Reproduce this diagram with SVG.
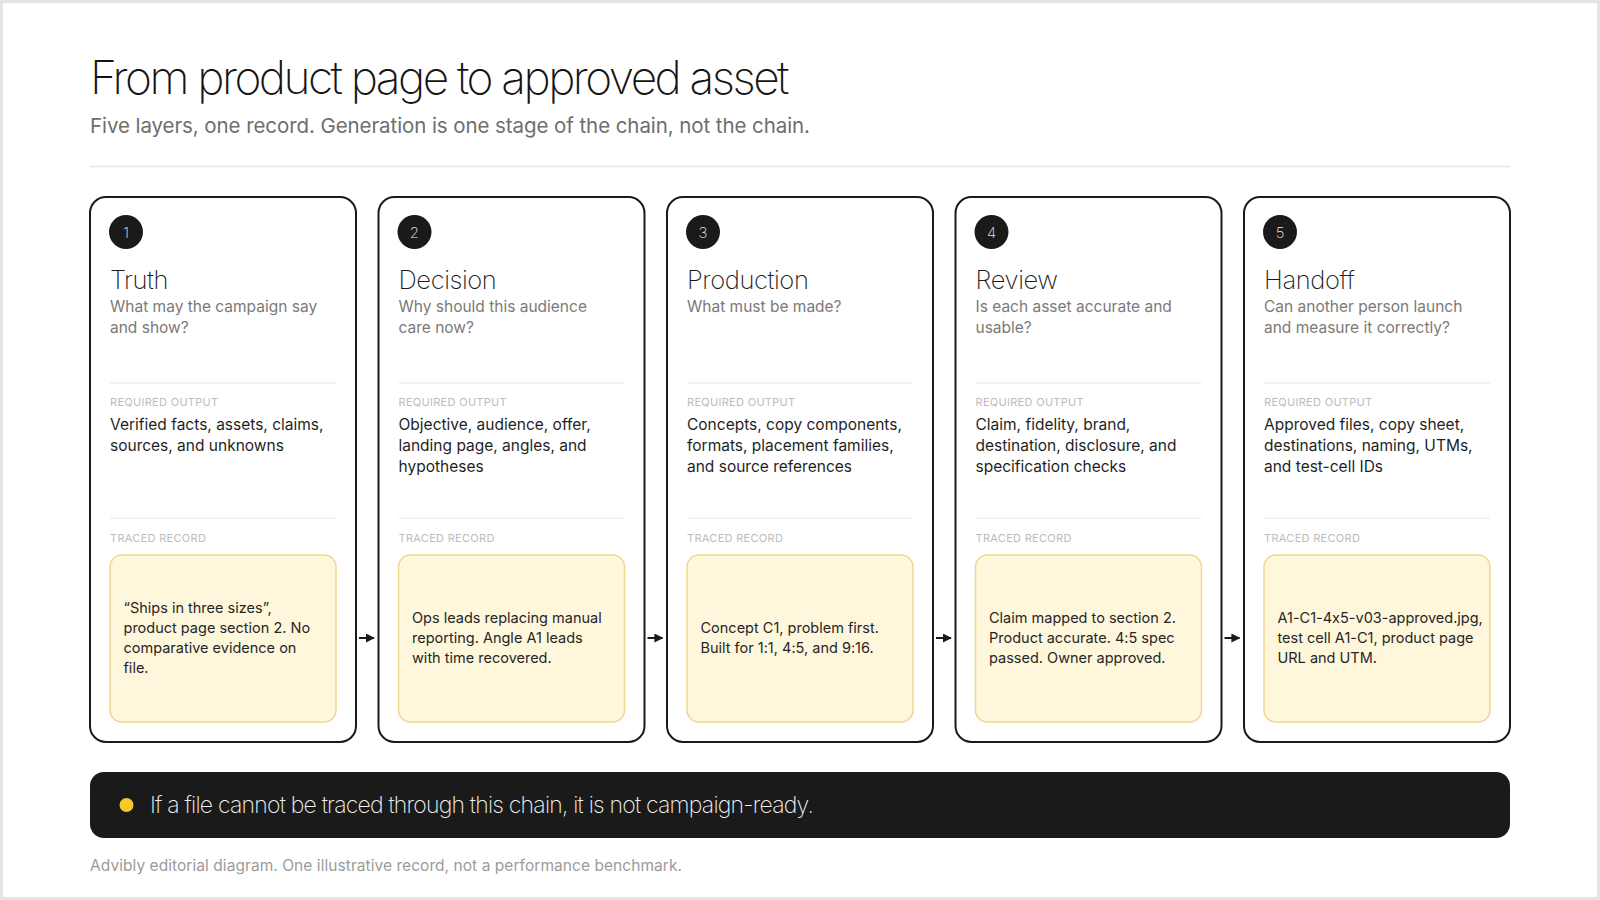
<svg xmlns="http://www.w3.org/2000/svg" width="1600" height="900" viewBox="0 0 1600 900">
<defs>
<style>
text{font-feature-settings:"calt" 0}
.bg{fill:#ffffff;stroke:#e4e4e4;stroke-width:3}
.title{font-family:Inter,"Noto Sans",sans-serif;font-weight:200;font-size:46px;fill:#141414;letter-spacing:-1.5px}
.sub{font-family:Inter,"Noto Sans",sans-serif;font-weight:400;font-size:20.5px;fill:#6e6e6e}
.rule{stroke:#e6e6e6;stroke-width:1.5}
.card{fill:#ffffff;stroke:#1a1a1a;stroke-width:2}
.badge{fill:#1a1a1a}
.num{font-family:Inter,"Noto Sans",sans-serif;font-weight:200;font-size:15px;fill:#e8e8e8;text-anchor:middle}
.ctitle{font-family:Inter,"Noto Sans",sans-serif;font-weight:250;font-size:25.5px;fill:#1a1a1a;letter-spacing:-0.4px}
.q{font-family:Inter,"Noto Sans",sans-serif;font-weight:400;font-size:15.5px;fill:#7a7a7a}
.div{stroke:#e8e8e8;stroke-width:1.2}
.lab{font-family:Inter,"Noto Sans",sans-serif;font-weight:400;font-size:11px;fill:#bcbcbc;letter-spacing:0.3px}
.out{font-family:Inter,"Noto Sans",sans-serif;font-weight:400;font-size:15.5px;fill:#1f1f1f}
.rec{fill:#fef7dc;stroke:#eed78e;stroke-width:1.5}
.rt{font-family:Inter,"Noto Sans",sans-serif;font-weight:400;font-size:14.5px;fill:#262626}
.conn{stroke:#1a1a1a;stroke-width:2;fill:none}
.bar{fill:#1a1a1a}
.bartext{font-family:Inter,"Noto Sans",sans-serif;font-weight:200;font-size:23px;fill:#f2f2f2;letter-spacing:-0.8px}
.foot{font-family:Inter,"Noto Sans",sans-serif;font-weight:400;font-size:15.5px;fill:#9b9b9b}
</style>
<marker id="ah" viewBox="0 0 10 10" refX="9" refY="5" markerWidth="4.5" markerHeight="4.5" orient="auto" markerUnits="strokeWidth">
<path d="M0,0 L10,5 L0,10 z" fill="#1a1a1a"/>
</marker>
</defs>
<rect class="bg" x="1.5" y="1.5" width="1597" height="897"/>
<g id="header">
<text class="title" x="90" y="94" textLength="698">From product page to approved asset</text>
<text class="sub" x="90" y="133" textLength="720">Five layers, one record. Generation is one stage of the chain, not the chain.</text>
<line class="rule" x1="90" y1="166.5" x2="1510" y2="166.5"/>
</g>
<g id="card1">
<rect class="card" x="90" y="197" width="266" height="545" rx="16"/>
<circle class="badge" cx="126" cy="232" r="17"/>
<text class="num" x="126" y="237.5">1</text>
<text class="ctitle" x="110" y="289">Truth</text>
<text class="q" x="110" y="312">What may the campaign say</text>
<text class="q" x="110" y="333">and show?</text>
<line class="div" x1="110" y1="383" x2="336" y2="383"/>
<text class="lab" x="110" y="406">REQUIRED OUTPUT</text>
<text class="out" x="110" y="430">Verified facts, assets, claims,</text>
<text class="out" x="110" y="451">sources, and unknowns</text>
<line class="div" x1="110" y1="518" x2="336" y2="518"/>
<text class="lab" x="110" y="542">TRACED RECORD</text>
<rect class="rec" x="110" y="555" width="226" height="167" rx="12"/>
<text class="rt" x="123.5" y="612.5">“Ships in three sizes”,</text>
<text class="rt" x="123.5" y="632.5">product page section 2. No</text>
<text class="rt" x="123.5" y="652.5">comparative evidence on</text>
<text class="rt" x="123.5" y="672.5">file.</text>
</g>
<g id="card2">
<rect class="card" x="378.5" y="197" width="266" height="545" rx="16"/>
<circle class="badge" cx="414.5" cy="232" r="17"/>
<text class="num" x="414.5" y="237.5">2</text>
<text class="ctitle" x="398.5" y="289">Decision</text>
<text class="q" x="398.5" y="312">Why should this audience</text>
<text class="q" x="398.5" y="333">care now?</text>
<line class="div" x1="398.5" y1="383" x2="624.5" y2="383"/>
<text class="lab" x="398.5" y="406">REQUIRED OUTPUT</text>
<text class="out" x="398.5" y="430">Objective, audience, offer,</text>
<text class="out" x="398.5" y="451">landing page, angles, and</text>
<text class="out" x="398.5" y="472">hypotheses</text>
<line class="div" x1="398.5" y1="518" x2="624.5" y2="518"/>
<text class="lab" x="398.5" y="542">TRACED RECORD</text>
<rect class="rec" x="398.5" y="555" width="226" height="167" rx="12"/>
<text class="rt" x="412" y="622.5">Ops leads replacing manual</text>
<text class="rt" x="412" y="642.5">reporting. Angle A1 leads</text>
<text class="rt" x="412" y="662.5">with time recovered.</text>
</g>
<g id="card3">
<rect class="card" x="667" y="197" width="266" height="545" rx="16"/>
<circle class="badge" cx="703" cy="232" r="17"/>
<text class="num" x="703" y="237.5">3</text>
<text class="ctitle" x="687" y="289">Production</text>
<text class="q" x="687" y="312">What must be made?</text>
<line class="div" x1="687" y1="383" x2="913" y2="383"/>
<text class="lab" x="687" y="406">REQUIRED OUTPUT</text>
<text class="out" x="687" y="430">Concepts, copy components,</text>
<text class="out" x="687" y="451">formats, placement families,</text>
<text class="out" x="687" y="472">and source references</text>
<line class="div" x1="687" y1="518" x2="913" y2="518"/>
<text class="lab" x="687" y="542">TRACED RECORD</text>
<rect class="rec" x="687" y="555" width="226" height="167" rx="12"/>
<text class="rt" x="700.5" y="632.5">Concept C1, problem first.</text>
<text class="rt" x="700.5" y="652.5">Built for 1:1, 4:5, and 9:16.</text>
</g>
<g id="card4">
<rect class="card" x="955.5" y="197" width="266" height="545" rx="16"/>
<circle class="badge" cx="991.5" cy="232" r="17"/>
<text class="num" x="991.5" y="237.5">4</text>
<text class="ctitle" x="975.5" y="289">Review</text>
<text class="q" x="975.5" y="312">Is each asset accurate and</text>
<text class="q" x="975.5" y="333">usable?</text>
<line class="div" x1="975.5" y1="383" x2="1201.5" y2="383"/>
<text class="lab" x="975.5" y="406">REQUIRED OUTPUT</text>
<text class="out" x="975.5" y="430">Claim, fidelity, brand,</text>
<text class="out" x="975.5" y="451">destination, disclosure, and</text>
<text class="out" x="975.5" y="472">specification checks</text>
<line class="div" x1="975.5" y1="518" x2="1201.5" y2="518"/>
<text class="lab" x="975.5" y="542">TRACED RECORD</text>
<rect class="rec" x="975.5" y="555" width="226" height="167" rx="12"/>
<text class="rt" x="989" y="622.5">Claim mapped to section 2.</text>
<text class="rt" x="989" y="642.5">Product accurate. 4:5 spec</text>
<text class="rt" x="989" y="662.5">passed. Owner approved.</text>
</g>
<g id="card5">
<rect class="card" x="1244" y="197" width="266" height="545" rx="16"/>
<circle class="badge" cx="1280" cy="232" r="17"/>
<text class="num" x="1280" y="237.5">5</text>
<text class="ctitle" x="1264" y="289">Handoff</text>
<text class="q" x="1264" y="312">Can another person launch</text>
<text class="q" x="1264" y="333">and measure it correctly?</text>
<line class="div" x1="1264" y1="383" x2="1490" y2="383"/>
<text class="lab" x="1264" y="406">REQUIRED OUTPUT</text>
<text class="out" x="1264" y="430">Approved files, copy sheet,</text>
<text class="out" x="1264" y="451">destinations, naming, UTMs,</text>
<text class="out" x="1264" y="472">and test-cell IDs</text>
<line class="div" x1="1264" y1="518" x2="1490" y2="518"/>
<text class="lab" x="1264" y="542">TRACED RECORD</text>
<rect class="rec" x="1264" y="555" width="226" height="167" rx="12"/>
<text class="rt" x="1277.5" y="622.5">A1-C1-4x5-v03-approved.jpg,</text>
<text class="rt" x="1277.5" y="642.5">test cell A1-C1, product page</text>
<text class="rt" x="1277.5" y="662.5">URL and UTM.</text>
</g>
<g id="connectors">
<line class="conn" x1="359" y1="638" x2="374" y2="638" marker-end="url(#ah)"/>
<line class="conn" x1="647.5" y1="638" x2="662.5" y2="638" marker-end="url(#ah)"/>
<line class="conn" x1="936" y1="638" x2="951" y2="638" marker-end="url(#ah)"/>
<line class="conn" x1="1224.5" y1="638" x2="1239.5" y2="638" marker-end="url(#ah)"/>
</g>
<g id="banner">
<rect class="bar" x="90" y="772" width="1420" height="66" rx="14"/>
<circle cx="126.5" cy="805" r="7" fill="#f6c928"/>
<text class="bartext" x="150" y="813" textLength="663">If a file cannot be traced through this chain, it is not campaign-ready.</text>
</g>
<g id="footer">
<text class="foot" x="90" y="871" textLength="592">Advibly editorial diagram. One illustrative record, not a performance benchmark.</text>
</g>
</svg>
